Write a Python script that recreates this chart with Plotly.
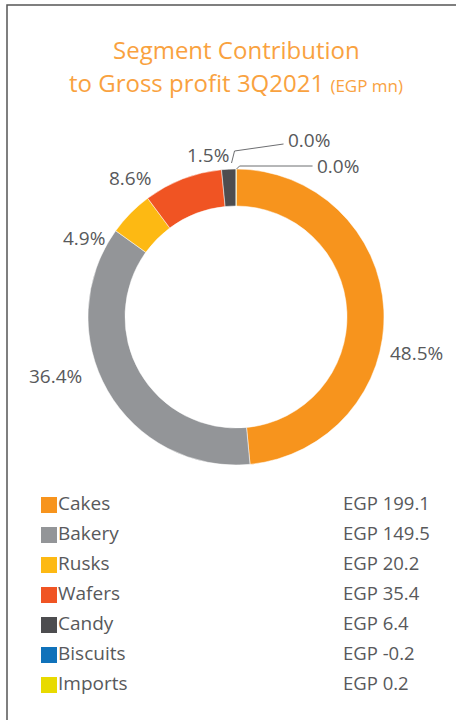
import plotly.graph_objects as go
import numpy as np

# Segment contribution to gross profit, 3Q2021 (EGP mn)
segments = ["Cakes", "Bakery", "Rusks", "Wafers", "Candy", "Biscuits", "Imports"]
gross_profit = [199.1, 149.5, 20.2, 35.4, 6.4, -0.2, 0.2]
share_pct = [48.5, 36.4, 4.9, 8.6, 1.5, 0.0, 0.0]
colors = ["#F7941D", "#939598", "#FDB913", "#F05423", "#4D4D4F", "#1072BA", "#E8DA00"]

W, H = 456, 720
cx, cy, R = 236, 317, 148
txt = "#58595B"
font = "Open Sans"

fig = go.Figure()

fig.add_trace(go.Pie(
    labels=segments, values=gross_profit, sort=False, direction="clockwise", rotation=0,
    hole=0.75, marker=dict(colors=colors, line=dict(color="white", width=0.5)),
    textinfo="none", hoverinfo="label+value", showlegend=False,
    domain=dict(x=[(cx - R) / W, (cx + R) / W], y=[1 - (cy + R) / H, 1 - (cy - R) / H]),
))

# percentage labels around the ring, from each slice's mid angle
pos = [max(v, 0) for v in gross_profit]
frac = np.array(pos) / sum(pos)
cum = np.concatenate([[0], np.cumsum(frac)])
turn = [14, 12, -17, -16, -7]   # small angular / radial nudges so labels sit like the original
push = [0, 7, -10, 0, 0]
ann = []
for i in range(5):
    th = np.radians(360 * (cum[i] + frac[i] / 2) + turn[i])
    r = 160 + 24 * abs(np.sin(th)) + push[i]
    ann.append(dict(x=cx + r * np.sin(th), y=cy - r * np.cos(th), xref="x", yref="y",
                    text=f"{share_pct[i]:.1f}%", showarrow=False,
                    font=dict(size=19, color=txt, family=font)))

# zero slices: elbow leader lines going up-right
shapes = []
for k, i in enumerate([5, 6]):
    th = np.radians(360 * cum[i])
    sx = cx + (R + 6 - 6 * k) * np.sin(th) - 4 + 5 * k
    sy = cy - (R + 6 - 6 * k) * np.cos(th)
    ex, ey = sx + 3, sy - 12 + 9 * k
    fx, fy = ex + 49 + 24 * k, ey - 7 + 7 * k
    shapes.append(dict(type="path", xref="x", yref="y",
                       path=f"M {sx},{sy} L {ex},{ey} L {fx},{fy}",
                       line=dict(color="#6D6E71", width=1)))
    ann.append(dict(x=fx + 2, y=fy - 4 + 4 * k, xref="x", yref="y", xanchor="left",
                    text=f"{share_pct[i]:.1f}%", showarrow=False,
                    font=dict(size=19, color=txt, family=font)))

# frame
shapes.append(dict(type="path", xref="x", yref="y", path=f"M 7,{H} L 7,5 L {W},5",
                   line=dict(color="#555555", width=1.5)))

# title
ann.append(dict(x=cx, y=49, xref="x", yref="y", text="Segment Contribution", showarrow=False,
                font=dict(size=24, color="#F9A23F", family=font)))
ann.append(dict(x=cx, y=82, xref="x", yref="y",
                text="to Gross profit 3Q2021 <span style='font-size:17px'>(EGP mn)</span>",
                showarrow=False, font=dict(size=24, color="#F9A23F", family=font)))

# legend with values
rows = [505 + 30 * i for i in range(len(segments))]
fig.add_trace(go.Scatter(x=[49] * len(segments), y=rows, mode="markers",
                         marker=dict(symbol="square", size=16, color=colors),
                         showlegend=False, hoverinfo="skip"))
fig.add_trace(go.Scatter(x=[58] * len(segments), y=rows, mode="text", text=segments,
                         textposition="middle right",
                         textfont=dict(size=19, color=txt, family=font),
                         showlegend=False, hoverinfo="skip"))
fig.add_trace(go.Scatter(x=[343] * len(segments), y=rows, mode="text",
                         text=[f"EGP {v}" for v in gross_profit], textposition="middle right",
                         textfont=dict(size=18.5, color=txt, family=font),
                         showlegend=False, hoverinfo="skip"))

fig.update_layout(
    width=W, height=H, margin=dict(l=0, r=0, t=0, b=0),
    paper_bgcolor="white", plot_bgcolor="rgba(0,0,0,0)",
    xaxis=dict(range=[0, W], visible=False, fixedrange=True),
    yaxis=dict(range=[H, 0], visible=False, fixedrange=True),
    annotations=ann, shapes=shapes,
)

fig.write_html("out.html", config={"displayModeBar": False},
               post_script="document.body.style.margin='0';")
